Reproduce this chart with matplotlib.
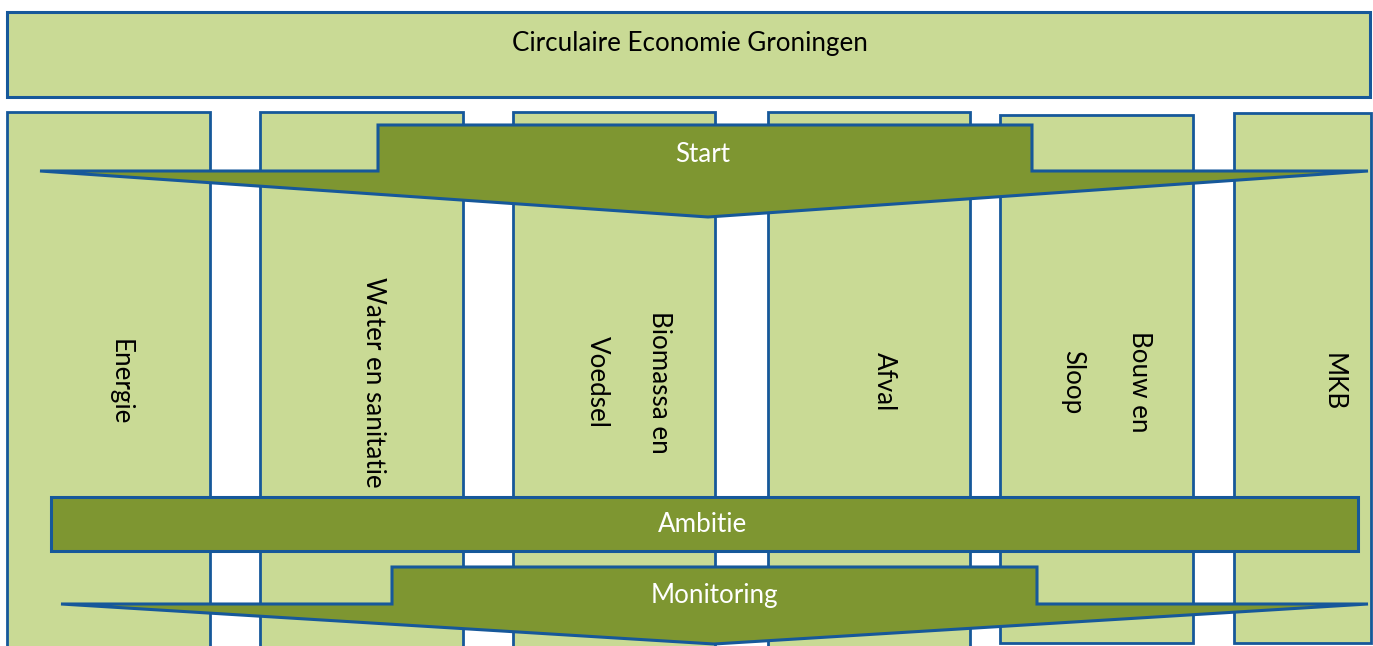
import matplotlib
matplotlib.use("Agg")
import matplotlib.pyplot as plt
from matplotlib.patches import Rectangle, Polygon

# ---- content ----
title = "Circulaire Economie Groningen"
themes = [["Energie"], ["Water en sanitatie"], ["Biomassa en", "Voedsel"],
          ["Afval"], ["Bouw en", "Sloop"], ["MKB"]]
stages = ["Start", "Ambitie", "Monitoring"]

# ---- layout (pixels, y downward) ----
W, H = 1373, 646
col_x = [(7, 210), (260, 463), (513, 715), (768, 970), (1000, 1193), (1234, 1371)]
col_y = [(112, 660), (112, 660), (112, 660), (112, 660), (115, 643), (113, 643)]
line_x = [[120], [373], [660, 597], [884], [1140, 1073], [1333]]

LIGHT = "#C9DA95"
DARK = "#7E9631"
EDGE = "#16589A"
FONT = ["Lato", "DejaVu Sans"]
FS = 18.7

fig = plt.figure(figsize=(W / 100, H / 100), dpi=100)
ax = fig.add_axes([0, 0, 1, 1])
ax.set_xlim(0, W)
ax.set_ylim(H, 0)
ax.axis("off")

# title box
ax.add_patch(Rectangle((7, 12), 1363, 85, facecolor=LIGHT, edgecolor=EDGE, lw=2.2, zorder=1))
ax.text(690, 44, title, ha="center", va="center", fontsize=FS, family=FONT, color="black", zorder=5)

# theme columns
for (x0, x1), (y0, y1), labels, xs in zip(col_x, col_y, themes, line_x):
    ax.add_patch(Rectangle((x0, y0), x1 - x0, y1 - y0, facecolor=LIGHT, edgecolor=EDGE, lw=2.0, zorder=1))
    for lab, lx in zip(labels, xs):
        ax.text(lx, 382, lab, ha="center", va="center", rotation=-90, fontsize=FS,
                family=FONT, color="black", zorder=2)

def arrow(body_x0, body_x1, top, step, wing_l, wing_r, tip_x, tip_y):
    pts = [(body_x0, top), (body_x1, top), (body_x1, step), (wing_r, step),
           (tip_x, tip_y), (wing_l, step), (body_x0, step)]
    ax.add_patch(Polygon(pts, closed=True, facecolor=DARK, edgecolor=EDGE, lw=2.2,
                         joinstyle="miter", zorder=3))

# Start arrow
arrow(378, 1032, 125, 171, 40, 1368, 708, 217)
ax.text(703, 155, stages[0], ha="center", va="center", fontsize=FS, family=FONT, color="white", zorder=5)

# Ambitie bar
ax.add_patch(Rectangle((51, 497), 1307, 54, facecolor=DARK, edgecolor=EDGE, lw=2.2, zorder=3))
ax.text(703, 525, stages[1], ha="center", va="center", fontsize=FS, family=FONT, color="white", zorder=5)

# Monitoring arrow
arrow(392, 1037, 567, 604, 61, 1368, 714, 644)
ax.text(714, 596, stages[2], ha="center", va="center", fontsize=FS, family=FONT, color="white", zorder=5)

fig.savefig("out.png", dpi=100)
